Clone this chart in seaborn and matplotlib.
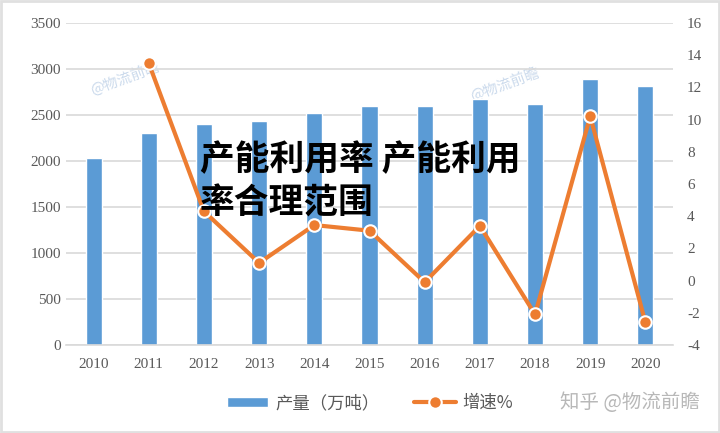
import numpy as np
import pandas as pd
import matplotlib
matplotlib.use("Agg")
import matplotlib.pyplot as plt
import seaborn as sns

# data
years = ["2010", "2011", "2012", "2013", "2014", "2015", "2016", "2017", "2018", "2019", "2020"]
output = [2033, 2304, 2402, 2435, 2522, 2598, 2598, 2674, 2620, 2891, 2815]
growth_years = years[1:]
growth = [13.5, 4.3, 1.1, 3.45, 3.1, -0.1, 3.4, -2.1, 10.2, -2.6]

bar_label = "产量（万吨）"
line_label = "增速%"
title = "产能利用率 产能利用\n率合理范围"

sns.set_theme(style="white")
plt.rcParams['font.family'] = ['Noto Sans CJK SC', 'DejaVu Sans']
plt.rcParams['axes.unicode_minus'] = False

blue = "#5b9bd5"
orange = "#ed7d31"
grey = "#595959"

fig = plt.figure(figsize=(7.2, 4.33), dpi=100)
ax = fig.add_axes([66/720, 88/433, (673-66)/720, (345-23)/433])
ax.patch.set_alpha(0)

df = pd.DataFrame({"year": years, "output": output})
sns.barplot(data=df, x="year", y="output", color=blue, width=0.29,
            saturation=1, ax=ax, label=bar_label, zorder=2)

ax.set_ylim(0, 3500)
ax.set_yticks(range(0, 3501, 500))
ax.set_xlim(-0.5, len(years) - 0.5)
ax.yaxis.grid(True, color="#d9d9d9", linewidth=1.2, zorder=0)
ax.set_axisbelow(True)
for s in ax.spines.values():
    s.set_visible(False)
ax.spines["bottom"].set_visible(True)
ax.spines["bottom"].set_color("#d9d9d9")
ax.spines["bottom"].set_linewidth(1.2)
ax.set_xlabel("")
ax.set_ylabel("")
ax.tick_params(axis="both", length=0, labelsize=11, labelcolor=grey)
ax.tick_params(axis="x", pad=9)
for lab in ax.get_xticklabels() + ax.get_yticklabels():
    lab.set_family("Liberation Serif")

ax2 = ax.twinx()
ax2.patch.set_alpha(0)
pos = [years.index(y) for y in growth_years]
sns.lineplot(x=pos, y=growth, color=orange, linewidth=3, marker="o",
             markersize=9, markeredgecolor="white", markeredgewidth=1.5,
             ax=ax2, label=line_label, zorder=3)
ax2.set_ylim(-4, 16)
ax2.set_yticks(range(-4, 17, 2))
for s in ax2.spines.values():
    s.set_visible(False)
ax2.tick_params(axis="y", length=0, labelsize=11, labelcolor=grey, pad=10)
for lab in ax2.get_yticklabels():
    lab.set_family("Liberation Serif")
ax2.set_ylabel("")
if ax2.legend_:
    ax2.legend_.remove()

# legend at the bottom
h1, l1 = ax.get_legend_handles_labels()
h2, l2 = ax2.get_legend_handles_labels()
if ax.legend_:
    ax.legend_.remove()
fig.legend(h1 + h2, l1 + l2, loc="center", bbox_to_anchor=(370/720, 1 - 403/433),
           ncol=2, frameon=False, fontsize=12.5, labelcolor=grey,
           handlelength=2.4, handleheight=0.5, handletextpad=0.4, columnspacing=2.0)

# overlaid title text
fig.text(200/720, 1 - 142/433, title, fontsize=25, fontweight="heavy",
         color="black", va="top", ha="left", linespacing=1.3, zorder=10)

# watermarks (behind the plot)
fig.text(125/720, 1 - 78/433, "@物流前瞻", fontsize=10.5, color="#cbdaec",
         rotation=20, ha="center", va="center", zorder=-1)
fig.text(505/720, 1 - 84/433, "@物流前瞻", fontsize=10.5, color="#cbdaec",
         rotation=20, ha="center", va="center", zorder=-1)
fig.text(630/720, 1 - 403/433, "知乎 @物流前瞻", fontsize=14, color="#b8b8b8",
         ha="center", va="center")

# light frame around the picture
fig.patches.append(plt.Rectangle((0.002, 0.003), 0.996, 0.994, transform=fig.transFigure,
                                 fill=False, edgecolor="#e0e0e0", linewidth=2))

fig.savefig("out.png", dpi=100)
